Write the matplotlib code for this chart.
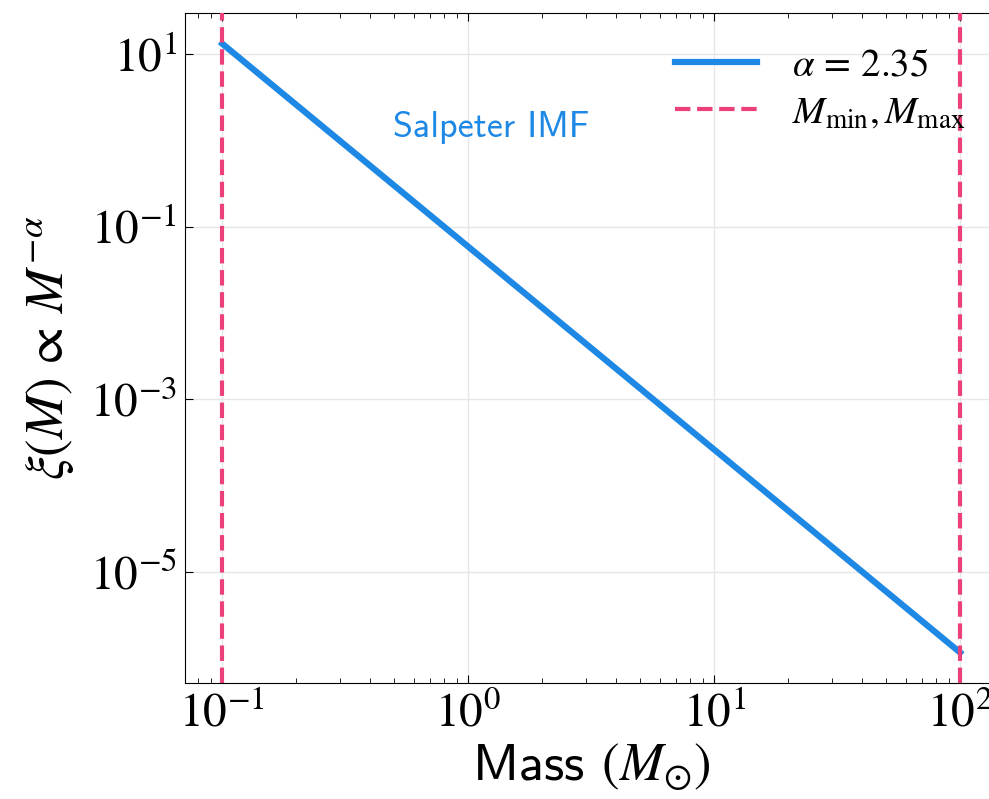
import matplotlib
matplotlib.use('Agg')
import matplotlib.pyplot as plt
from matplotlib.ticker import FixedLocator, NullLocator

# 読み取った値 (Salpeter IMF, alpha = 2.35)
mass = [0.1, 1.0, 10.0, 100.0]
xi = [13.1, 0.0586, 2.62e-4, 1.17e-6]
mass_limits = [0.1, 100.0]
y_ticks = [1e1, 1e-1, 1e-3, 1e-5]

plt.rcParams['font.family'] = ['STIXGeneral', 'DejaVu Sans']
plt.rcParams['mathtext.fontset'] = 'stix'
sans = ['cmss10', 'DejaVu Sans']

fig = plt.figure(figsize=(9.89, 7.99), dpi=100)
ax = fig.add_axes([0.1874, 0.1452, 0.8207, 0.8382])

ax.plot(mass, xi, color='#1E88E5', lw=4.5, label=r'$\alpha \,=\, 2.35$', zorder=3)
for i, m in enumerate(mass_limits):
    ax.axvline(m, color='#EC407A', lw=3, ls='--',
               label=r'$M_{\rm min}, M_{\rm max}$' if i == 0 else None, zorder=4)

ax.set_xscale('log')
ax.set_yscale('log')
ax.set_xlim(10 ** -1.15, 10 ** 2.15)
ax.yaxis.set_major_locator(FixedLocator(y_ticks))
ax.yaxis.set_minor_locator(NullLocator())

ax.grid(True, which='major', color='#e6e6e6', lw=1)
ax.set_axisbelow(True)
ax.tick_params(which='both', direction='in', top=True, right=True, labelsize=34)
ax.tick_params(which='major', length=6, pad=6)
ax.tick_params(which='minor', length=3.5)

ax.set_xlabel(r'Mass $(M_{\odot})$', fontsize=38, family=sans, labelpad=4)
ax.set_ylabel(r'$\xi(M) \,\propto\, M^{-\alpha}$', fontsize=38, labelpad=10)

ax.text(0.256, 0.83, 'Salpeter IMF', transform=ax.transAxes, color='#1E88E5',
        fontsize=26, family=sans, ha='left', va='center')

ax.legend(loc='upper right', bbox_to_anchor=(1.004, 1.0), frameon=False, fontsize=28,
          handlelength=2.1, handletextpad=0.9, labelspacing=0.3)

fig.savefig('out.png', dpi=100)
